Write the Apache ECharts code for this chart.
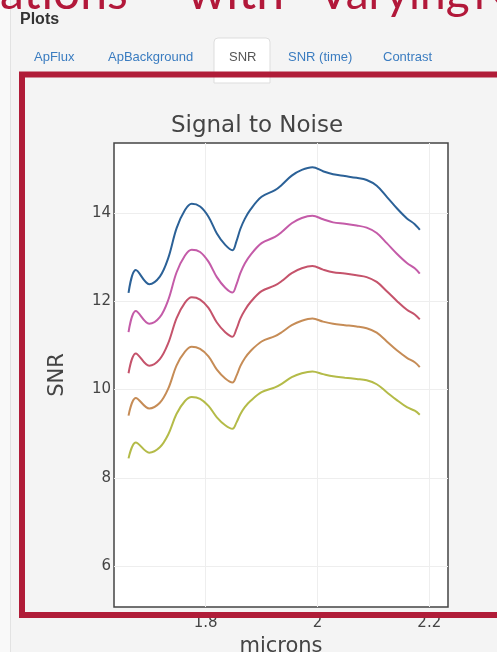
<!DOCTYPE html>
<html><head><meta charset="utf-8">
<script src="https://cdn.jsdelivr.net/npm/echarts@6/dist/echarts.min.js"></script>
<style>html,body{margin:0;padding:0;background:#f4f4f4;overflow:hidden}#c{width:497px;height:652px}</style>
</head><body><div id="c"></div><script>
const microns = [1.662,1.675,1.699,1.718,1.733,1.748,1.763,1.775,1.790,1.805,1.820,1.835,1.848,1.855,1.862,1.870,1.880,1.900,1.924,1.936,1.954,1.972,1.991,2.010,2.028,2.049,2.070,2.088,2.106,2.124,2.142,2.160,2.174,2.183];
const snr1 = [12.19,12.71,12.39,12.56,12.98,13.66,14.07,14.21,14.15,13.92,13.54,13.28,13.16,13.36,13.64,13.87,14.08,14.37,14.52,14.64,14.85,14.98,15.04,14.95,14.88,14.84,14.80,14.75,14.62,14.37,14.11,13.88,13.75,13.62];
const snr2 = [11.30,11.78,11.49,11.64,12.03,12.66,13.04,13.17,13.12,12.90,12.55,12.31,12.20,12.38,12.64,12.86,13.05,13.32,13.46,13.57,13.77,13.89,13.94,13.86,13.79,13.76,13.72,13.67,13.55,13.32,13.08,12.87,12.75,12.63];
const snr3 = [10.37,10.82,10.54,10.69,11.05,11.62,11.97,12.09,12.04,11.85,11.52,11.30,11.20,11.37,11.61,11.80,11.98,12.23,12.36,12.46,12.64,12.75,12.80,12.72,12.66,12.63,12.59,12.55,12.44,12.23,12.01,11.81,11.70,11.59];
const snr4 = [9.41,9.81,9.57,9.70,10.02,10.55,10.86,10.97,10.92,10.75,10.45,10.25,10.16,10.31,10.53,10.71,10.87,11.09,11.21,11.30,11.46,11.56,11.61,11.54,11.49,11.46,11.43,11.39,11.29,11.09,10.89,10.72,10.62,10.51];
const snr5 = [8.44,8.80,8.57,8.69,8.98,9.45,9.74,9.83,9.79,9.63,9.37,9.19,9.11,9.25,9.44,9.60,9.74,9.94,10.05,10.13,10.28,10.37,10.41,10.35,10.30,10.27,10.24,10.21,10.12,9.94,9.76,9.60,9.52,9.43];
const seriesValues = [snr1, snr2, snr3, snr4, snr5];
const seriesColors = ['#2b6197', '#c45ba8', '#c5536b', '#c68c56', '#b4bb48'];
const xTicks = [1.8, 2, 2.2];
const yTicks = [6, 8, 10, 12, 14];
const tabs = ['ApFlux', 'ApBackground', 'SNR', 'SNR (time)', 'Contrast'];
const headerWords = ['ations', 'with', 'Varying', 'N'];

const tabX = [34, 108, 229, 288, 383];
const headerX = [0, 187, 318, 473];
const headerSize = [48, 50, 46, 48];

const chart = echarts.init(document.getElementById('c'), null, {renderer: 'canvas'});
const FONT = '"DejaVu Sans", sans-serif';
const graphics = [
  {type: 'rect', shape: {x: 0, y: 0, width: 10, height: 652}, style: {fill: '#f9f9f9'}, z: 0},
  {type: 'line', shape: {x1: 10.5, y1: 0, x2: 10.5, y2: 652}, style: {stroke: '#e2e2e2', lineWidth: 1}, z: 0},
  {type: 'text', x: 20, y: 19.5, style: {text: 'Plots', font: 'bold 16px "Liberation Sans", Arial, sans-serif', fill: '#333', textVerticalAlign: 'middle'}, z: 10},
  {type: 'rect', shape: {x: 214, y: 38, width: 56, height: 45, r: [4, 4, 0, 0]}, style: {fill: '#fff', stroke: '#ddd', lineWidth: 1}, z: 5},
  {type: 'text', x: 257, y: 126, style: {text: 'Signal to Noise', font: '23px ' + FONT, fill: '#444', textAlign: 'center', textVerticalAlign: 'middle'}, z: 10}
];
headerWords.forEach((w, i) => {
  graphics.push({type: 'text', x: headerX[i], y: 8.5 - 0.81 * headerSize[i], style: {text: w, font: headerSize[i] + 'px Lato, sans-serif', fill: '#b2183a', textVerticalAlign: 'top'}, z: 10});
});
tabs.forEach((t, i) => {
  graphics.push({type: 'text', x: tabX[i], y: 57, style: {text: t, font: '13px "Liberation Sans", Arial, sans-serif', fill: t === 'SNR' ? '#555' : '#3a7cc0', textVerticalAlign: 'middle'}, z: 10});
});
graphics.push({type: 'rect', shape: {x: 22, y: 74.5, width: 500, height: 540.5}, style: {fill: null, stroke: '#b01c38', lineWidth: 6}, z: 100});

chart.setOption({
  backgroundColor: '#f4f4f4',
  animation: false,
  grid: {left: 114, top: 143, right: 49, bottom: 45, show: true, backgroundColor: '#fff', borderColor: '#444', borderWidth: 1.5, containLabel: false, outerBoundsMode: 'none'},
  xAxis: {
    type: 'value', min: 1.636, max: 2.2335,
    name: 'microns', nameLocation: 'middle', nameGap: 22,
    nameTextStyle: {fontFamily: FONT, fontSize: 21, color: '#444'},
    axisLine: {show: false},
    axisTick: {show: false, customValues: xTicks},
    axisLabel: {customValues: xTicks, fontFamily: FONT, fontSize: 15, color: '#444', margin: 9},
    splitLine: {show: true, lineStyle: {color: '#eee', width: 1}}
  },
  yAxis: {
    type: 'value', min: 5.07, max: 15.59,
    name: 'SNR', nameLocation: 'middle', nameGap: 46, nameRotate: 90,
    nameTextStyle: {fontFamily: FONT, fontSize: 21, color: '#444'},
    axisLine: {show: false},
    axisTick: {show: false, customValues: yTicks},
    axisLabel: {customValues: yTicks, fontFamily: FONT, fontSize: 15, color: '#444', margin: 3},
    splitLine: {show: true, lineStyle: {color: '#eee', width: 1}}
  },
  series: seriesValues.map((vals, i) => ({
    type: 'line', data: microns.map((x, j) => [x, vals[j]]), smooth: 0.35, showSymbol: false,
    lineStyle: {color: seriesColors[i], width: 2}, itemStyle: {color: seriesColors[i]}, z: 3
  })),
  graphic: graphics
});
</script></body></html>
